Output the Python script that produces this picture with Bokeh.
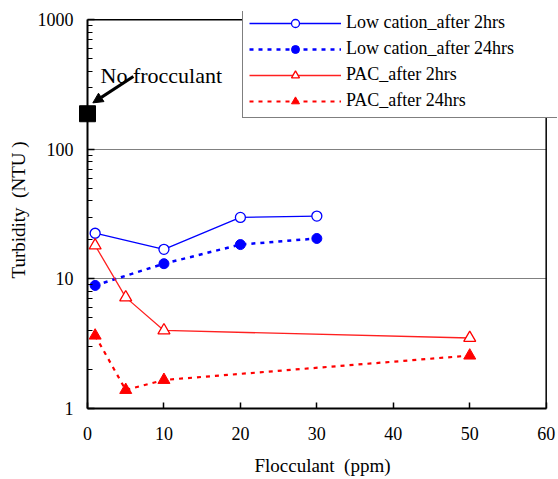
from bokeh.plotting import figure
from bokeh.models import FixedTicker, Legend, LegendItem, Arrow, NormalHead, Label
from bokeh.embed import file_html
from bokeh.resources import INLINE

# ---- data ----
lc_x = [1, 10, 20, 30]
lc_2h = [22.5, 16.9, 29.8, 30.5]
lc_24h = [8.9, 13.1, 18.4, 20.5]

pac_x = [1, 5, 10, 50]
pac_2h = [18.1, 7.2, 4.0, 3.5]
pac_24h = [3.65, 1.39, 1.66, 2.56]

nofloc_x = [0]
nofloc_y = [188]

x_ticks = [0, 10, 20, 30, 40, 50, 60]
y_ticks = [1, 10, 100, 1000]

FONT = "Liberation Serif"
NB = "\u00a0"

x_lo, x_hi = x_ticks[0], x_ticks[-1]
y_lo, y_hi = y_ticks[0], y_ticks[-1]

# frame extends a little beyond the axes box so the legend can overhang it
p = figure(width=558, height=479, x_range=(x_lo, 61.48), y_range=(y_lo, 1156),
           y_axis_type="log", output_backend="svg", toolbar_location=None,
           min_border_left=87, min_border_right=1, min_border_top=11,
           min_border_bottom=71, background_fill_color="white",
           border_fill_color="white")

p.outline_line_color = None

# axes
p.xaxis.ticker = FixedTicker(ticks=x_ticks)
p.yaxis.ticker = FixedTicker(ticks=y_ticks,
                             minor_ticks=[m * d for d in (1, 10, 100) for m in range(2, 10)])
p.xaxis.bounds = (x_lo, x_hi)
p.yaxis.bounds = (y_lo, y_hi)
for ax in (p.xaxis[0], p.yaxis[0]):
    ax.axis_line_width = 2
    ax.axis_line_color = "black"
    ax.major_tick_out = 0
    ax.minor_tick_out = 0
    ax.major_tick_line_color = "black"
    ax.major_tick_line_width = 1.5
    ax.major_label_text_font = FONT
    ax.major_label_text_font_size = "18px"
    ax.major_label_text_color = "black"
    ax.axis_label_text_font = FONT
    ax.axis_label_text_font_size = "19px"
    ax.axis_label_text_font_style = "normal"
    ax.axis_label_text_color = "black"

p.xaxis.major_tick_in = 6
p.xaxis.minor_tick_in = 0
p.xaxis.minor_tick_line_color = None
p.xaxis.major_label_standoff = 18
p.xaxis.axis_label = "Flocculant" + NB + NB + "(ppm)"
p.xaxis.axis_label_standoff = 12

p.yaxis.major_tick_in = 7
p.yaxis.minor_tick_in = 5
p.yaxis.minor_tick_line_color = "black"
p.yaxis.major_label_standoff = 14
p.yaxis.axis_label = "Turbidity" + NB + NB + "(NTU" + NB + ")"
p.yaxis.axis_label_standoff = 6
p.yaxis.major_label_overrides = {1: "1", 10: "10", 100: "100", 1000: "1000"}

p.xgrid.visible = False
p.ygrid.ticker = FixedTicker(ticks=[10, 100])
p.ygrid.grid_line_color = "#808080"
p.ygrid.grid_line_width = 1
p.ygrid.cross_bounds = (x_lo, x_hi)

# box border (top and right) at the axis limits
p.line([x_lo, x_hi, x_hi], [y_hi, y_hi, y_lo], line_color="black", line_width=1.5)

# series
l1 = p.line(lc_x, lc_2h, line_color="#0000FF", line_width=1.3)
s1 = p.scatter(lc_x, lc_2h, marker="circle", size=10, line_color="#0000FF",
               fill_color="white", line_width=1.3)
l2 = p.line(lc_x, lc_24h, line_color="#0000FF", line_width=2.5, line_dash="4 5")
s2 = p.scatter(lc_x, lc_24h, marker="circle", size=10, line_color="#0000FF",
               fill_color="#0000FF")
l3 = p.line(pac_x, pac_2h, line_color="#FF2020", line_width=1.3)
s3 = p.scatter(pac_x, pac_2h, marker="triangle", size=12, line_color="#FF0000",
               fill_color="white", line_width=1.3)
l4 = p.line(pac_x, pac_24h, line_color="#FF0000", line_width=2.2, line_dash="4 5")
s4 = p.scatter(pac_x, pac_24h, marker="triangle", size=12, line_color="#FF0000",
               fill_color="#FF0000")

sq = p.scatter(nofloc_x, nofloc_y, marker="square", size=16, color="black", level="overlay")

# annotation
p.add_layout(Arrow(end=NormalHead(size=10, fill_color="black", line_color="black"),
                   x_start=6.0, y_start=365, x_end=0.7, y_end=228,
                   line_width=3, line_color="black"))
p.add_layout(Label(x=1.7, y=371, text="No frocculant", text_font=FONT,
                   text_font_size="22px", text_color="black",
                   text_baseline="alphabetic"))

legend = Legend(items=[
    LegendItem(label="Low cation_after 2hrs", renderers=[l1, s1]),
    LegendItem(label="Low cation_after 24hrs", renderers=[l2, s2]),
    LegendItem(label="PAC_after 2hrs", renderers=[l3, s3]),
    LegendItem(label="PAC_after 24hrs", renderers=[l4, s4]),
], location=(155, 290))
legend.glyph_width = 92
legend.glyph_height = 20
legend.label_height = 20
legend.label_width = 208
legend.label_standoff = 5
legend.spacing = 5
legend.padding = 6
legend.margin = 0
legend.label_text_font = FONT
legend.label_text_font_size = "18px"
legend.label_text_color = "black"
legend.border_line_color = "black"
legend.border_line_width = 1
legend.background_fill_color = "white"
legend.background_fill_alpha = 1.0
p.add_layout(legend, "center")

open("out.html", "w").write(file_html(p, INLINE))
